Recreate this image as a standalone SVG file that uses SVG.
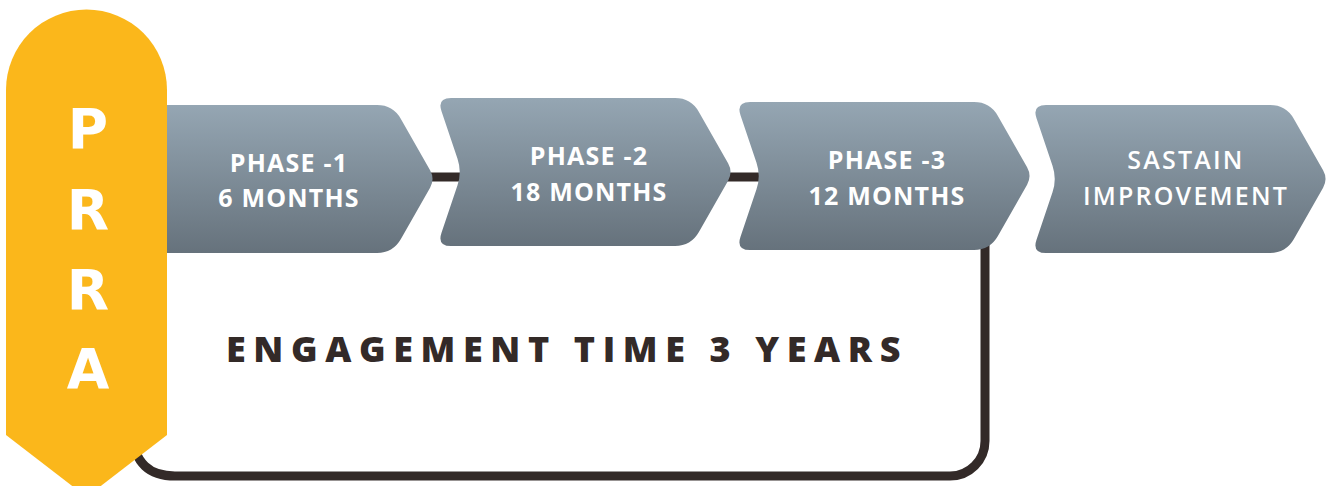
<svg xmlns="http://www.w3.org/2000/svg" width="1332" height="486" viewBox="0 0 1332 486">
  <defs>
    <linearGradient id="chev" x1="0" y1="0" x2="0" y2="1">
      <stop offset="0" stop-color="#95a6b3"/>
      <stop offset="1" stop-color="#66727c"/>
    </linearGradient>
    <path id="chevShape" d="M 20.5 60.7 L 4.5 13.3 Q 0 0 14 0 L 238 0 Q 254 0 261.9 13.9 L 291.1 65.3 Q 296 74 291.1 82.7 L 261.9 134.1 Q 254 148 238 148 L 14 148 Q 0 148 4.5 134.7 L 20.5 87.3 Q 25 74 20.5 60.7 Z"/>
    <style>
      .chev { fill: url(#chev); }
      .lbl { font-family: "Open Sans", "Liberation Sans", sans-serif; font-weight: 700; font-size: 25px; fill: #ffffff; text-anchor: middle; letter-spacing: 1.2px; }
      .lbl2 { font-weight: 600; letter-spacing: 2.2px; }
      .conn { fill: none; stroke: #332a28; stroke-width: 9; }
      .banner { fill: #fbb71b; }
      .bl { font-family: "DejaVu Sans", "Open Sans", sans-serif; font-weight: 700; font-size: 55px; fill: #ffffff; text-anchor: middle; }
      .eng { font-family: "Open Sans", "Liberation Sans", sans-serif; font-weight: 800; font-size: 36px; fill: #332a28; letter-spacing: 7.6px; }
    </style>
  </defs>
  <rect width="1332" height="486" fill="#ffffff"/>
  <g id="connectors">
    <line class="conn" x1="400" y1="177" x2="780" y2="177"/>
    <path class="conn" d="M 130 430 C 135 465 150 476 175 476 H 950 A 35 35 0 0 0 985 441 V 240"/>
  </g>
  <g id="phase1">
    <use href="#chevShape" class="chev" transform="translate(139,105)"/>
    <text class="lbl" x="289" y="172">PHASE -1</text>
    <text class="lbl" x="289" y="207">6 MONTHS</text>
  </g>
  <g id="phase2">
    <use href="#chevShape" class="chev" transform="translate(437,98)"/>
    <text class="lbl" x="589" y="165">PHASE -2</text>
    <text class="lbl" x="589" y="201">18 MONTHS</text>
  </g>
  <g id="phase3">
    <use href="#chevShape" class="chev" transform="translate(736,102)"/>
    <text class="lbl" x="887" y="169">PHASE -3</text>
    <text class="lbl" x="887" y="205">12 MONTHS</text>
  </g>
  <g id="sustain">
    <use href="#chevShape" class="chev" transform="translate(1032,105)"/>
    <text class="lbl lbl2" x="1186" y="169">SASTAIN</text>
    <text class="lbl lbl2" x="1186" y="205">IMPROVEMENT</text>
  </g>
  <g id="prra">
    <path class="banner" d="M 6 90 A 80.5 80.5 0 0 1 167 90 V 435 L 86.5 497 L 6 435 Z"/>
    <text class="bl" x="88" y="148">P</text>
    <text class="bl" x="88" y="229">R</text>
    <text class="bl" x="88" y="309">R</text>
    <text class="bl" x="88" y="388">A</text>
  </g>
  <g id="engagement">
    <text class="eng" x="226" y="362">ENGAGEMENT TIME 3 YEARS</text>
  </g>
</svg>
